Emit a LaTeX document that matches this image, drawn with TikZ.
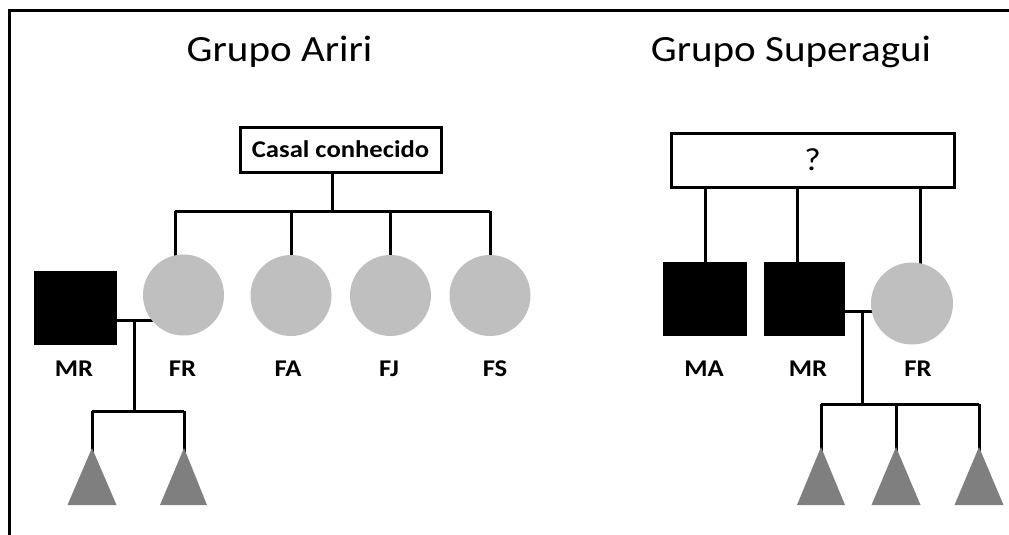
\documentclass[tikz,border=0pt]{standalone}
\usepackage{fontspec}
\setmainfont{Carlito}
\usetikzlibrary{backgrounds}
\definecolor{femfill}{HTML}{BFBFBF}
\definecolor{kidfill}{HTML}{7F7F7F}
\newcommand{\widetxt}[1]{\scalebox{1.11}[1]{#1}}
\tikzset{
  link/.style={line width=3pt, black},
  framel/.style={line width=3pt, black},
  male/.style={fill=black, inner sep=0pt, minimum width=83pt, minimum height=74pt},
  female/.style={circle, fill=femfill, inner sep=0pt, minimum size=81pt},
  lbl/.style={font=\fontsize{24}{24}\selectfont\bfseries, anchor=base, inner sep=0pt},
  ttl/.style={font=\fontsize{37}{37}\selectfont, anchor=base, inner sep=0pt},
  parbox/.style={draw, line width=3pt, fill=white, inner sep=0pt},
  kid/.style={fill=kidfill}
}
\begin{document}
\begin{tikzpicture}[x=1pt,y=-1pt]
\useasboundingbox (0,0) rectangle (1009,535);
\draw[framel] (9,535) -- (9,11) -- (1009,11);

% titles
\node[ttl] (tA) at (279.5,62) {\widetxt{Grupo Ariri}};
\node[ttl] (tS) at (791,62) {\widetxt{Grupo Superagui}};

% ---- Grupo Ariri
\node[parbox, minimum width=201pt, minimum height=45pt,
      font=\fontsize{24}{24}\selectfont\bfseries] (casal) at (340.5,149.5) {\widetxt{Casal conhecido}};
\node[male] (mrA) at (75.5,307.5) {};
\node[female] (frA) at (183.5,295) {};
\node[female] (fa) at (291,295.5) {};
\node[female] (fj) at (390.5,295.5) {};
\node[female] (fs) at (490,295.5) {};
\node[lbl] (lmrA) at (74,376) {\widetxt{MR}};
\node[lbl] (lfrA) at (182.5,376) {\widetxt{FR}};
\node[lbl] (lfa) at (288,376) {\widetxt{FA}};
\node[lbl] (lfj) at (389,376) {\widetxt{FJ}};
\node[lbl] (lfs) at (495,376) {\widetxt{FS}};

\coordinate (jA) at (332,211);
\coordinate (bA1) at (175,211);
\coordinate (bA4) at (490,211);
\coordinate (mA) at (134,320);
\coordinate (cA) at (134,411);
\coordinate (k1) at (92,448);
\coordinate (k2) at (184,448);
\fill[kid] (k1) -- ++(-24.5,57) -- ++(49,0) -- cycle;
\fill[kid] (k2) -- ++(-24,57) -- ++(47,0) -- cycle;

% ---- Grupo Superagui
\node[parbox, minimum width=283pt, minimum height=54pt,
      font=\fontsize{32}{32}\selectfont] (q) at (812.5,160) {\widetxt{?}};
\node[male, minimum width=84pt] (ma) at (705,299) {};
\node[male, minimum width=81pt] (mrS) at (804.5,299) {};
\node[female, minimum size=82pt] (frS) at (912,303.5) {};
\node[lbl] (lma) at (704,376) {\widetxt{MA}};
\node[lbl] (lmrS) at (808,376) {\widetxt{MR}};
\node[lbl] (lfrS) at (918,376) {\widetxt{FR}};

\coordinate (dMA) at (705,187);
\coordinate (dMR) at (797,187);
\coordinate (dFR) at (920,187);
\coordinate (mS) at (862,311);
\coordinate (cS) at (862,404);
\coordinate (k3) at (821,447);
\coordinate (k4) at (896,447);
\coordinate (k5) at (979,447);
\fill[kid] (k3) -- ++(-24,58) -- ++(48,0) -- cycle;
\fill[kid] (k4) -- ++(-24.5,58) -- ++(49,0) -- cycle;
\fill[kid] (k5) -- ++(-24.5,58) -- ++(49,0) -- cycle;

\begin{scope}[on background layer]
% Ariri connectors
\draw[link] (casal.south -| jA) -- (jA);
\draw[link] (bA1) -- (bA4);
\draw[link] (bA1) -- (bA1 |- frA.center);
\draw[link] (fa.center |- jA) -- (fa.center);
\draw[link] (fj.center |- jA) -- (fj.center);
\draw[link] (bA4) -- (fs.center);
\draw[link] (mrA.center |- mA) -- (frA.center |- mA);
\draw[link] (mA) -- (cA);
\draw[link] (k1 |- cA) -- (k2 |- cA);
\draw[link] (k1 |- cA) -- ([yshift=-6pt]k1);
\draw[link] (k2 |- cA) -- ([yshift=-6pt]k2);
% Superagui connectors
\draw[link] (q.south -| dMA) -- (dMA |- ma.center);
\draw[link] (q.south -| dMR) -- (dMR |- mrS.center);
\draw[link] (q.south -| dFR) -- (dFR |- frS.center);
\draw[link] (mrS.center |- mS) -- (frS.center |- mS);
\draw[link] (mS) -- (cS);
\draw[link] (k3 |- cS) -- (k5 |- cS);
\draw[link] (k3 |- cS) -- ([yshift=-6pt]k3);
\draw[link] (k4 |- cS) -- ([yshift=-6pt]k4);
\draw[link] (k5 |- cS) -- ([yshift=-6pt]k5);
\end{scope}
\end{tikzpicture}
\end{document}
